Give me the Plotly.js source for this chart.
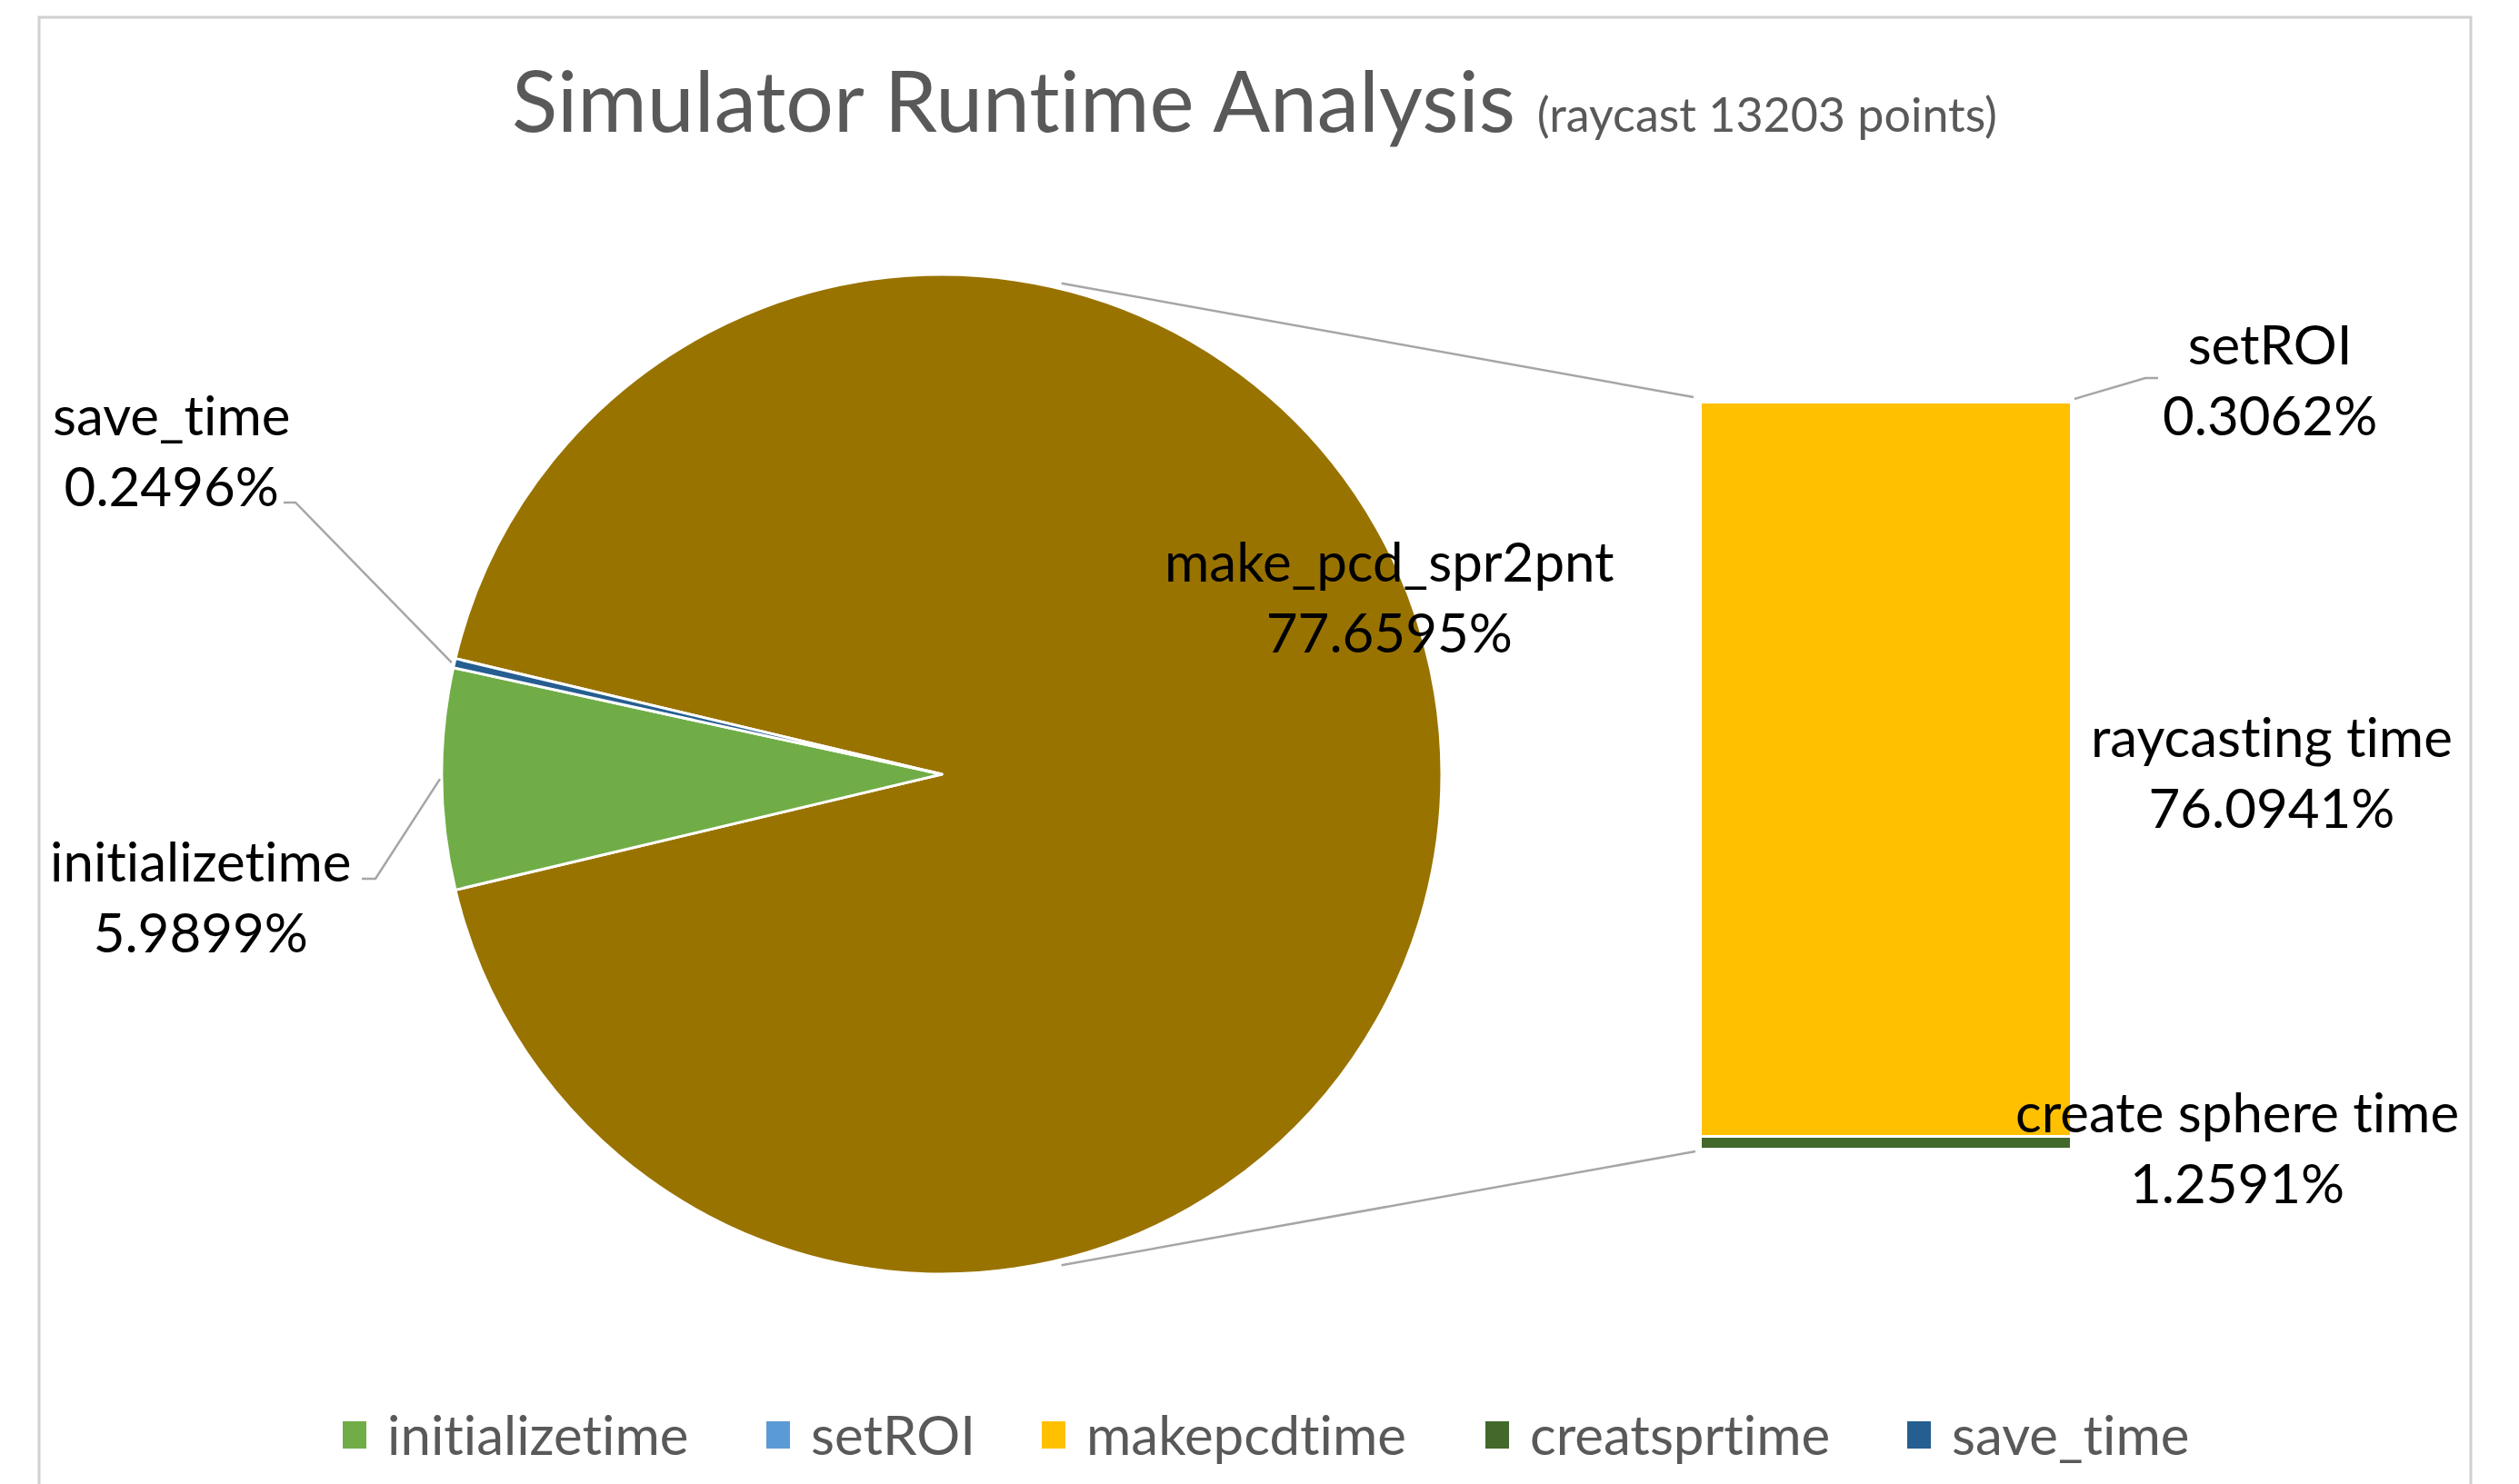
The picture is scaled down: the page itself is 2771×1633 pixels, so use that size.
<!DOCTYPE html>
<html>
<head>
<meta charset="utf-8">
<script src="https://cdn.plot.ly/plotly-3.0.1.min.js"></script>
<style>
  html, body { margin: 0; padding: 0; background: #ffffff; overflow: hidden; }
  svg text { font-variant-ligatures: none; font-feature-settings: "liga" 0, "clig" 0; }
</style>
</head>
<body>
<div id="chart" style="width:2771px;height:1633px"></div>
<script>
// ---- data ----
// main pie: the large slice is the sum of the stacked bar on the right
const pieLabels = ['make_pcd_spr2pnt', 'initializetime', 'save_time'];
const pieValues = [77.6595, 5.9899, 0.2496];
const pieColors = ['#997300', '#70AD47', '#255E91'];

// breakdown bar, bottom to top
const barNames  = ['creatsprtime', 'makepcdtime', 'setROI'];
const barLabels = ['create sphere time', 'raycasting time', 'setROI'];
const barValues = [1.2591, 76.0941, 0.3062];
const barColors = ['#43682B', '#FFC000', '#5B9BD5'];

// legend entries
const legendNames  = ['initializetime', 'setROI', 'makepcdtime', 'creatsprtime', 'save_time'];
const legendColors = ['#70AD47', '#5B9BD5', '#FFC000', '#43682B', '#255E91'];

const titleMain = 'Simulator Runtime Analysis';
const titleSub  = '(raycast 13203 points)';

// ---- page geometry (pixels) ----
const W = 2771, H = 1633;
const px = x => x / W;
const py = y => 1 - y / H;

const FONT = 'Lato, "Open Sans", sans-serif';
const LABEL_SIZE = 60;

const pie = { cx: 1036, cy: 852, r: 550 };
const bar = { x0: 1870, x1: 2278, top: 439, bottom: 1264 };

const pieTotal = pieValues.reduce((a, b) => a + b, 0);
const barTotal = barValues.reduce((a, b) => a + b, 0);
// big slice centred on the bar side (3 o'clock)
const bigSpan = 360 * pieValues[0] / pieTotal;
const rotation = 90 - bigSpan / 2;

// mid angle of a slice, in degrees counter-clockwise from east
function sliceMid(i) {
  let start = rotation;
  for (let j = 0; j < i; j++) start += 360 * pieValues[j] / pieTotal;
  const mid = start + 180 * pieValues[i] / pieTotal;
  return 90 - mid;
}
function onCircle(deg, r) {
  const a = deg * Math.PI / 180;
  return [pie.cx + r * Math.cos(a), pie.cy - r * Math.sin(a)];
}
function pathOf(points) {
  return points.map((p, k) => (k ? 'L' : 'M') + px(p[0]) + ',' + py(p[1])).join(' ');
}
const fmt = v => v.toFixed(4) + '%';

// ---- traces ----
const traces = [];
traces.push({
  type: 'pie',
  labels: pieLabels,
  values: pieValues,
  sort: false,
  direction: 'clockwise',
  rotation: rotation,
  marker: { colors: pieColors, line: { color: '#ffffff', width: 3 } },
  textinfo: 'none',
  hoverinfo: 'skip',
  showlegend: false,
  domain: {
    x: [px(pie.cx - pie.r), px(pie.cx + pie.r)],
    y: [py(pie.cy + pie.r), py(pie.cy - pie.r)]
  }
});
barValues.forEach((v, i) => {
  traces.push({
    type: 'bar',
    name: barNames[i],
    x: [0],
    y: [v],
    width: [1],
    marker: { color: barColors[i], line: { color: '#ffffff', width: 3 } },
    hoverinfo: 'skip',
    showlegend: false,
    xaxis: 'x',
    yaxis: 'y'
  });
});

// ---- labels ----
const annotations = [];
function label(text, x, y, color, size, anchor) {
  annotations.push({
    text: text, xref: 'paper', yref: 'paper',
    x: px(x), y: py(y), xanchor: anchor || 'center', yanchor: 'middle',
    showarrow: false, align: 'center',
    font: { family: FONT, size: size || LABEL_SIZE, color: color || '#000000' }
  });
}
// pie labels
label(pieLabels[0] + '<br>' + fmt(pieValues[0]), 1528, 656);
label(pieLabels[1] + '<br>' + fmt(pieValues[1]), 221, 986);
label(pieLabels[2] + '<br>' + fmt(pieValues[2]), 188, 495);
// bar labels
label(barLabels[2] + '<br>' + fmt(barValues[2]), 2497, 417);
label(barLabels[1] + '<br>' + fmt(barValues[1]), 2499, 849);
label(barLabels[0] + '<br>' + fmt(barValues[0]), 2461, 1262);

// ---- shapes: frame, connectors, leader lines, legend keys ----
const shapes = [];
shapes.push({
  type: 'rect', xref: 'paper', yref: 'paper',
  x0: px(43), x1: px(2718), y0: py(1720), y1: py(19),
  line: { color: '#D0D0D0', width: 3 }, fillcolor: 'rgba(0,0,0,0)', layer: 'below'
});
const grey = '#A6A6A6';
function polyline(points) {
  shapes.push({ type: 'path', xref: 'paper', yref: 'paper', path: pathOf(points),
    line: { color: grey, width: 2.5 } });
}
// pie-to-bar connectors
polyline([onCircle(76.3, 556), [bar.x0 - 7, bar.top - 2]]);
polyline([onCircle(-76.3, 556), [bar.x0 - 5, bar.bottom + 3]]);
// leader lines
polyline([[312, 553], [325, 553], onCircle(sliceMid(2), 553)]);
polyline([[398, 967], [413, 967], onCircle(sliceMid(1), 552)]);
polyline([[bar.x1 + 4, bar.top], [2360, 416], [2374, 416]]);

// legend
const legendX = [377, 843, 1146, 1634, 2098];
legendNames.forEach((name, i) => {
  shapes.push({
    type: 'rect', xref: 'paper', yref: 'paper',
    x0: px(legendX[i]), x1: px(legendX[i] + 26), y0: py(1594), y1: py(1564),
    line: { width: 0 }, fillcolor: legendColors[i]
  });
  label(name, legendX[i] + 47, 1578, '#595959', LABEL_SIZE, 'left');
});

const layout = {
  width: W, height: H,
  margin: { l: 0, r: 0, t: 0, b: 0 },
  paper_bgcolor: '#ffffff', plot_bgcolor: 'rgba(0,0,0,0)',
  showlegend: false,
  barmode: 'stack',
  title: {
    text: titleMain + ' <span style="font-size:52px">' + titleSub + '</span>',
    font: { family: FONT, size: 93, color: '#595959' },
    x: px(1380), xanchor: 'center', xref: 'container',
    y: py(112), yanchor: 'middle', yref: 'container'
  },
  xaxis: {
    domain: [px(bar.x0), px(bar.x1)], range: [-0.5, 0.5],
    visible: false, fixedrange: true
  },
  yaxis: {
    domain: [py(bar.bottom), py(bar.top)], range: [0, barTotal],
    visible: false, fixedrange: true
  },
  shapes: shapes,
  annotations: annotations
};

Plotly.newPlot('chart', traces, layout, { displayModeBar: false, staticPlot: true });
</script>
</body>
</html>
